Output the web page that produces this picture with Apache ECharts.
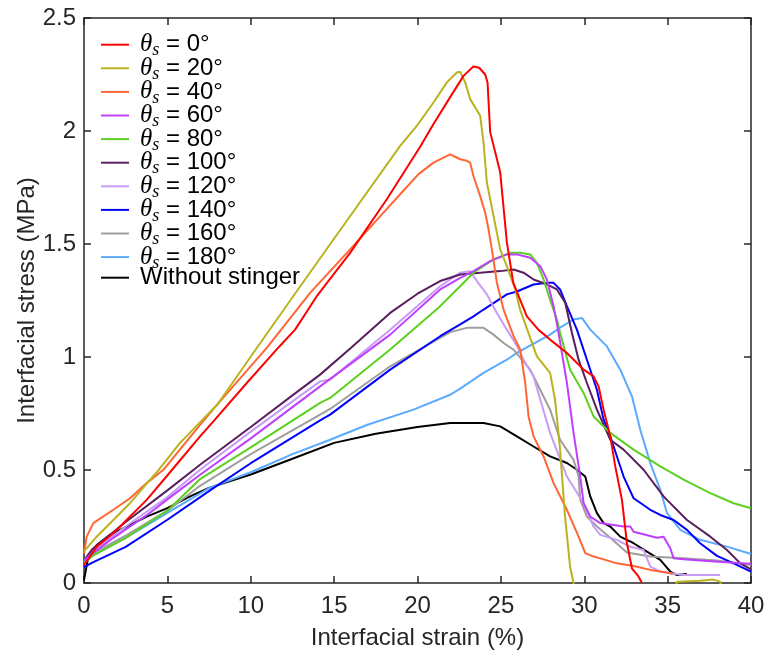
<!DOCTYPE html>
<html><head><meta charset="utf-8">
<script src="https://cdn.jsdelivr.net/npm/echarts@6/dist/echarts.min.js"></script>
<style>html,body{margin:0;padding:0;background:#fff}#c{width:768px;height:657px}</style>
</head><body><div id="c"></div>
<script>
// ---- data (strain %, stress MPa) ----
const angles = ['0', '20', '40', '60', '80', '100', '120', '140', '160', '180'];
const s0 = [[0,0.08],[0.3,0.11],[0.76,0.161],[1.76,0.22],[2.76,0.294],[3.76,0.368],[5.16,0.49],[6.96,0.649],[7.76,0.715],[9.76,0.885],[11.76,1.05],[12.66,1.121],[13.96,1.269],[15.96,1.461],[18.16,1.698],[20.16,1.93],[20.95,2.03],[21.96,2.15],[22.76,2.244],[23.35,2.285],[23.7,2.28],[24.06,2.25],[24.2,2.215],[24.36,1.995],[24.96,1.817],[25.36,1.507],[25.74,1.33],[26.15,1.254],[26.56,1.18],[27.26,1.12],[27.95,1.077],[28.96,1.018],[29.96,0.944],[30.56,0.914],[30.86,0.87],[31.16,0.767],[31.56,0.649],[31.86,0.516],[32.26,0.368],[32.56,0.176],[32.86,0.065],[33.26,0.028],[33.46,0]];
const s20 = [[0,0.14],[0.76,0.205],[1.76,0.279],[2.76,0.353],[3.76,0.44],[4.36,0.49],[5.76,0.62],[8,0.79],[10.36,1.04],[12.56,1.27],[14.96,1.52],[18.96,1.934],[19.96,2.023],[20.96,2.126],[21.76,2.215],[22.36,2.259],[22.56,2.262],[22.86,2.215],[23.16,2.141],[23.76,2.067],[23.96,1.949],[24.16,1.772],[24.56,1.624],[24.96,1.476],[25.36,1.402],[25.86,1.299],[26.15,1.21],[27.16,1.003],[27.95,0.93],[28.25,0.811],[28.55,0.59],[28.85,0.294],[29.15,0.072],[29.36,0],[29.5,-0.05],[35.4,-0.05],[35.56,0.006],[36.95,0.01],[37.76,0.015],[38.15,0.006],[38.3,-0.05]];
const s40 = [[0,0.13],[0.16,0.205],[0.56,0.265],[1.76,0.324],[2.76,0.375],[3.76,0.442],[4.76,0.501],[6.96,0.70],[8,0.79],[10.96,1.04],[13.56,1.284],[15.96,1.476],[17.96,1.639],[18.96,1.72],[20.06,1.809],[20.96,1.86],[21.96,1.897],[22.56,1.875],[22.96,1.868],[23.16,1.86],[23.36,1.8],[23.76,1.712],[24.06,1.639],[24.26,1.565],[24.46,1.476],[24.76,1.329],[25.16,1.21],[25.76,1.092],[26.16,1.033],[26.46,0.885],[26.66,0.737],[26.96,0.649],[27.56,0.56],[28.16,0.442],[28.96,0.324],[29.66,0.205],[30.06,0.132],[30.56,0.117],[30.96,0.109],[31.96,0.087],[32.96,0.075],[33.96,0.058],[34.96,0.046],[35.3,0.04]];
const s60 = [[0,0.1],[0.5,0.13],[1.76,0.2],[3.76,0.3],[5,0.37],[6.96,0.479],[10,0.64],[14.16,0.87],[18.36,1.099],[21.36,1.299],[22.56,1.35],[23.36,1.38],[24.36,1.424],[25.36,1.454],[25.96,1.454],[26.76,1.439],[27.36,1.402],[27.76,1.343],[28.16,1.225],[28.46,1.107],[28.96,0.885],[29.36,0.664],[29.76,0.471],[29.96,0.353],[30.36,0.294],[30.96,0.265],[32.36,0.25],[32.76,0.25],[32.96,0.227],[34.36,0.2],[34.76,0.205],[35.16,0.154],[35.36,0.109],[35.96,0.105],[36.95,0.1],[38.96,0.09],[40,0.085]];
const s80 = [[0,0.09],[0.5,0.12],[2.5,0.2],[5,0.32],[6.96,0.46],[10,0.6],[14.16,0.797],[14.76,0.819],[18.36,1.033],[21.36,1.225],[22.56,1.313],[23.36,1.373],[24.56,1.432],[25.56,1.461],[26.16,1.461],[26.76,1.454],[27.16,1.417],[27.56,1.343],[27.95,1.254],[28.36,1.166],[28.55,1.107],[29.15,0.944],[29.96,0.841],[30.56,0.737],[31.56,0.664],[32.96,0.59],[34.56,0.516],[35.96,0.457],[37.56,0.398],[38.96,0.353],[40,0.331]];
const s100 = [[0,0.1],[0.5,0.15],[2.5,0.27],[5,0.41],[6.96,0.523],[10,0.69],[12.5,0.83],[14.16,0.922],[16,1.04],[18.36,1.195],[20,1.28],[21.36,1.336],[22.56,1.365],[23.76,1.373],[24.96,1.38],[25.76,1.387],[26.36,1.373],[26.96,1.343],[27.76,1.321],[28.36,1.299],[28.86,1.24],[29.26,1.107],[29.66,0.988],[30.16,0.885],[30.76,0.767],[31.56,0.634],[32.36,0.59],[33.56,0.501],[34.76,0.383],[34.96,0.368],[36.16,0.279],[37.56,0.205],[38.56,0.146],[39.36,0.087],[40,0.06]];
const s120 = [[0,0.1],[0.5,0.14],[2.5,0.25],[5,0.38],[6.96,0.501],[10,0.67],[14.16,0.892],[14.76,0.9],[18.36,1.121],[21.36,1.313],[22.56,1.373],[23.16,1.38],[23.56,1.336],[24.16,1.277],[24.76,1.195],[25.36,1.121],[25.96,1.05],[26.36,0.988],[26.96,0.914],[27.95,0.664],[28.96,0.471],[29.96,0.353],[30.56,0.25],[30.96,0.213],[31.96,0.191],[32.76,0.16],[33.56,0.146],[33.96,0.072],[34.56,0.05],[35.96,0.035],[38.15,0.035]];
const s140 = [[0,0.07],[0.5,0.09],[2.5,0.16],[5,0.28],[7.56,0.41],[10,0.53],[14.16,0.72],[14.76,0.745],[18.36,0.944],[21.36,1.092],[22.56,1.144],[23.36,1.18],[23.96,1.21],[25.36,1.277],[25.96,1.29],[26.96,1.321],[27.76,1.328],[28.16,1.328],[28.55,1.299],[28.96,1.225],[29.56,1.121],[30.16,0.988],[30.76,0.855],[31.16,0.723],[31.56,0.649],[31.96,0.56],[32.36,0.471],[32.96,0.375],[33.96,0.324],[34.56,0.301],[35.36,0.279],[36.16,0.235],[36.95,0.176],[37.96,0.12],[38.96,0.087],[40,0.05]];
const s160 = [[0,0.1],[0.5,0.13],[2.5,0.21],[5,0.32],[6.96,0.43],[10,0.57],[14.16,0.745],[14.76,0.77],[18.36,0.959],[21.96,1.11],[22.96,1.129],[23.96,1.129],[24.56,1.099],[25.16,1.062],[25.76,1.033],[26.76,0.944],[27.36,0.855],[27.95,0.767],[28.55,0.634],[29.36,0.545],[29.66,0.471],[29.76,0.368],[30.16,0.294],[30.76,0.25],[31.56,0.2],[32.56,0.135],[33.96,0.117],[35.96,0.109],[37.96,0.1],[40,0.08]];
const s180 = [[0,0.09],[0.5,0.12],[2.5,0.2],[5,0.31],[7.5,0.42],[10,0.49],[12.5,0.57],[14.76,0.634],[17,0.7],[19.76,0.767],[21.96,0.833],[22.56,0.86],[23.96,0.93],[25.36,0.988],[25.96,1.018],[27.95,1.099],[28.55,1.13],[29.36,1.166],[29.86,1.173],[30.36,1.121],[31.36,1.047],[32.16,0.944],[32.86,0.826],[33.36,0.678],[33.96,0.531],[34.56,0.412],[34.96,0.31],[35.76,0.235],[36.95,0.191],[38.56,0.161],[40,0.128]];
const sNone = [[0,0.013],[0.26,0.117],[0.76,0.168],[1.56,0.213],[2.76,0.257],[3.76,0.294],[5,0.331],[6.36,0.383],[7.46,0.42],[10,0.48],[12.5,0.55],[15,0.62],[17.5,0.66],[20,0.69],[21.96,0.708],[23.96,0.708],[24.96,0.693],[25.96,0.649],[26.96,0.604],[27.95,0.56],[28.96,0.531],[29.56,0.501],[30.06,0.471],[30.36,0.383],[30.76,0.309],[31.16,0.265],[31.56,0.25],[32.16,0.205],[32.96,0.176],[33.76,0.139],[34.56,0.102],[35.16,0.05],[35.56,0.035],[36.16,0.04]];
const xTicks = [0, 5, 10, 15, 20, 25, 30, 35, 40];
const yTicks = [0, 0.5, 1, 1.5, 2, 2.5];

const curves = [s0, s20, s40, s60, s80, s100, s120, s140, s160, s180, sNone];
const colors = ['#ff0000', '#bab21e', '#ff6633', '#bf3fff', '#5ccf1f', '#5a1e5e', '#c79cf5', '#0000ff', '#9e9e9e', '#5aaaff', '#000000'];
const names = angles.map(a => 'θs = ' + a + '°').concat(['Without stinger']);

const AX = '#262626';
const FS = 24;
const chart = echarts.init(document.getElementById('c'), null, {renderer: 'canvas'});
const grid = {left: 84, right: 17, top: 18, bottom: 74};
function axisBase() {
  return {
    axisLine: {show: true, onZero: false, lineStyle: {color: AX, width: 1.5}},
    axisTick: {show: true, inside: true, length: 7, lineStyle: {color: AX, width: 1.5}},
    splitLine: {show: false}
  };
}
chart.setOption({
  animation: false,
  grid: grid,
  xAxis: [
    Object.assign(axisBase(), {type: 'value', min: xTicks[0], max: xTicks[xTicks.length-1], interval: 5,
      axisLabel: {color: AX, fontSize: FS, fontFamily: 'Liberation Sans', margin: 11},
      name: 'Interfacial strain (%)', nameLocation: 'middle', nameGap: 43, nameMoveOverlap: false,
      nameTextStyle: {color: AX, fontSize: FS, fontFamily: 'Liberation Sans'}}),
    Object.assign(axisBase(), {type: 'value', position: 'top', min: 0, max: 40, interval: 5, axisLabel: {show: false}})
  ],
  yAxis: [
    Object.assign(axisBase(), {type: 'value', min: yTicks[0], max: yTicks[yTicks.length-1], interval: 0.5,
      axisLabel: {color: AX, fontSize: FS, fontFamily: 'Liberation Sans', margin: 8},
      name: 'Interfacial stress (MPa)', nameLocation: 'middle', nameGap: 45, nameMoveOverlap: false,
      nameTextStyle: {color: AX, fontSize: FS, fontFamily: 'Liberation Sans'}}),
    Object.assign(axisBase(), {type: 'value', position: 'right', min: 0, max: 2.5, interval: 0.5, axisLabel: {show: false}})
  ],
  legend: {
    left: 101, top: 29.7, orient: 'vertical', padding: 0, itemGap: -6.4,
    itemWidth: 28, itemHeight: 14,
    icon: 'path://M0,0H100V7H0Z',
    data: names,
    formatter: function (n) {
      if (n.indexOf('θs') === 0) return '{th|θ}{sub|s}{n|' + n.slice(2) + '}';
      return '{n|' + n + '}';
    },
    textStyle: {
      color: '#000', padding: [0, 0, 0, 6],
      rich: {
        th: {fontFamily: 'Liberation Serif', fontStyle: 'italic', fontSize: 25, lineHeight: 22, color: '#000'},
        sub: {fontFamily: 'Liberation Serif', fontStyle: 'italic', fontSize: 18, lineHeight: 10, padding: [12, 0, 0, 0], color: '#000'},
        n: {fontFamily: 'Liberation Sans', fontSize: FS, lineHeight: 22, color: '#000'}
      }
    }
  },
  series: curves.map((d, i) => ({
    name: names[i], type: 'line', data: d, showSymbol: false, symbol: 'none',
    lineStyle: {color: colors[i], width: 2}, itemStyle: {color: colors[i]}, z: 2 + (curves.length - i),
    clip: true
  }))
});
</script></body></html>
